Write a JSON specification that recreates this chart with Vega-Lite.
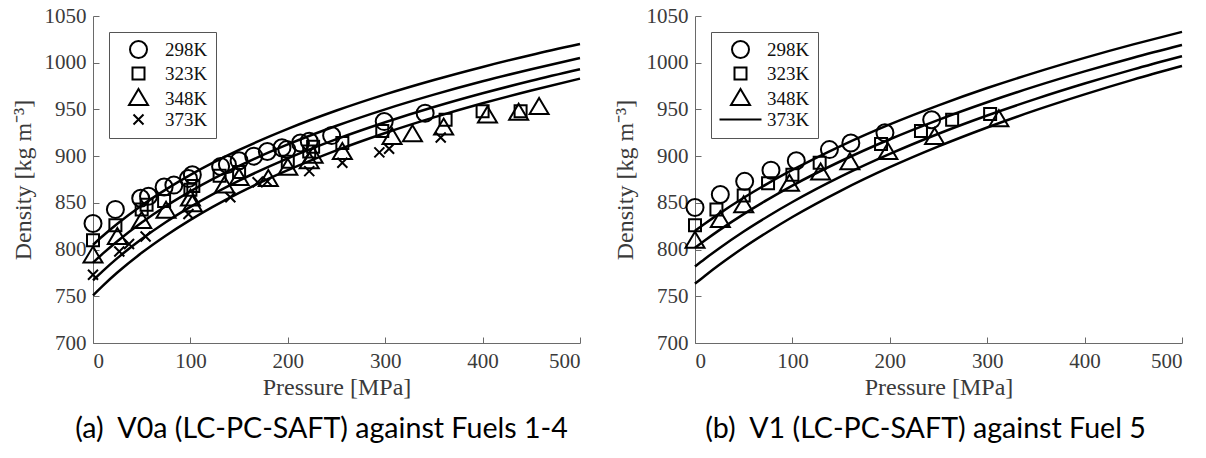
{
  "$schema": "https://vega.github.io/schema/vega-lite/v6.json",
  "background": "white",
  "padding": {"left": 11, "top": 5, "right": 5, "bottom": 5},
  "spacing": 28,
  "config": {
    "view": {"stroke": null},
    "axis": {
      "labelFont": "Liberation Serif", "labelFontSize": 21, "labelColor": "#3a3a3a",
      "titleFont": "Liberation Serif", "titleFontSize": 24, "titleFontWeight": "normal", "titleColor": "#3a3a3a",
      "domainColor": "#6a6a6a", "tickColor": "#6a6a6a", "grid": false,
      "tickSize": -6, "labelPadding": 13, "format": "d"
    },
    "title": {"font": "Lato", "fontSize": 28.6, "fontWeight": "normal", "color": "black", "offset": 16},
    "legend": {
      "orient": "top-left", "offset": 16, "padding": 8, "strokeColor": "#555", "fillColor": "white",
      "labelFont": "Liberation Serif", "labelFontSize": 19, "labelColor": "#111",
      "symbolSize": 4, "symbolStrokeWidth": 2, "symbolStrokeColor": "black", "symbolFillColor": "transparent",
      "symbolOffset": 12, "labelOffset": 17, "rowPadding": 1, "title": null
    }
  },
  "datasets": {
    "curves_a": [
      {"P": 0, "D": 805, "T": "298K"}, {"P": 10, "D": 814.5, "T": "298K"}, {"P": 25, "D": 827.6, "T": "298K"}, {"P": 50, "D": 847.2, "T": "298K"}, {"P": 75, "D": 864.4, "T": "298K"}, {"P": 100, "D": 879.9, "T": "298K"}, {"P": 150, "D": 906.6, "T": "298K"}, {"P": 200, "D": 929.2, "T": "298K"}, {"P": 250, "D": 948.8, "T": "298K"}, {"P": 300, "D": 966.1, "T": "298K"}, {"P": 350, "D": 981.5, "T": "298K"}, {"P": 400, "D": 995.5, "T": "298K"}, {"P": 450, "D": 1008.3, "T": "298K"}, {"P": 500, "D": 1020, "T": "298K"},
      {"P": 0, "D": 786, "T": "323K"}, {"P": 10, "D": 795.6, "T": "323K"}, {"P": 25, "D": 809.0, "T": "323K"}, {"P": 50, "D": 829.0, "T": "323K"}, {"P": 75, "D": 846.6, "T": "323K"}, {"P": 100, "D": 862.3, "T": "323K"}, {"P": 150, "D": 889.5, "T": "323K"}, {"P": 200, "D": 912.5, "T": "323K"}, {"P": 250, "D": 932.5, "T": "323K"}, {"P": 300, "D": 950.1, "T": "323K"}, {"P": 350, "D": 965.8, "T": "323K"}, {"P": 400, "D": 980.1, "T": "323K"}, {"P": 450, "D": 993.0, "T": "323K"}, {"P": 500, "D": 1005, "T": "323K"},
      {"P": 0, "D": 767, "T": "348K"}, {"P": 10, "D": 776.9, "T": "348K"}, {"P": 25, "D": 790.8, "T": "348K"}, {"P": 50, "D": 811.3, "T": "348K"}, {"P": 75, "D": 829.5, "T": "348K"}, {"P": 100, "D": 845.7, "T": "348K"}, {"P": 150, "D": 873.8, "T": "348K"}, {"P": 200, "D": 897.6, "T": "348K"}, {"P": 250, "D": 918.2, "T": "348K"}, {"P": 300, "D": 936.3, "T": "348K"}, {"P": 350, "D": 952.6, "T": "348K"}, {"P": 400, "D": 967.3, "T": "348K"}, {"P": 450, "D": 980.7, "T": "348K"}, {"P": 500, "D": 993, "T": "348K"},
      {"P": 0, "D": 751, "T": "373K"}, {"P": 10, "D": 761.2, "T": "373K"}, {"P": 25, "D": 775.4, "T": "373K"}, {"P": 50, "D": 796.5, "T": "373K"}, {"P": 75, "D": 815.1, "T": "373K"}, {"P": 100, "D": 831.8, "T": "373K"}, {"P": 150, "D": 860.7, "T": "373K"}, {"P": 200, "D": 885.0, "T": "373K"}, {"P": 250, "D": 906.2, "T": "373K"}, {"P": 300, "D": 924.8, "T": "373K"}, {"P": 350, "D": 941.5, "T": "373K"}, {"P": 400, "D": 956.6, "T": "373K"}, {"P": 450, "D": 970.3, "T": "373K"}, {"P": 500, "D": 983, "T": "373K"}
    ],
    "curves_b": [
      {"P": 0, "D": 820, "T": "298K"}, {"P": 10, "D": 827.6, "T": "298K"}, {"P": 25, "D": 838.5, "T": "298K"}, {"P": 50, "D": 855.4, "T": "298K"}, {"P": 75, "D": 870.9, "T": "298K"}, {"P": 100, "D": 885.2, "T": "298K"}, {"P": 150, "D": 911.1, "T": "298K"}, {"P": 200, "D": 934.0, "T": "298K"}, {"P": 250, "D": 954.4, "T": "298K"}, {"P": 300, "D": 972.9, "T": "298K"}, {"P": 350, "D": 989.7, "T": "298K"}, {"P": 400, "D": 1005.2, "T": "298K"}, {"P": 450, "D": 1019.6, "T": "298K"}, {"P": 500, "D": 1033, "T": "298K"},
      {"P": 0, "D": 802, "T": "323K"}, {"P": 10, "D": 809.7, "T": "323K"}, {"P": 25, "D": 820.8, "T": "323K"}, {"P": 50, "D": 838.0, "T": "323K"}, {"P": 75, "D": 853.8, "T": "323K"}, {"P": 100, "D": 868.5, "T": "323K"}, {"P": 150, "D": 894.8, "T": "323K"}, {"P": 200, "D": 918.1, "T": "323K"}, {"P": 250, "D": 938.9, "T": "323K"}, {"P": 300, "D": 957.7, "T": "323K"}, {"P": 350, "D": 974.9, "T": "323K"}, {"P": 400, "D": 990.7, "T": "323K"}, {"P": 450, "D": 1005.4, "T": "323K"}, {"P": 500, "D": 1019, "T": "323K"},
      {"P": 0, "D": 782, "T": "348K"}, {"P": 10, "D": 790.0, "T": "348K"}, {"P": 25, "D": 801.5, "T": "348K"}, {"P": 50, "D": 819.4, "T": "348K"}, {"P": 75, "D": 835.7, "T": "348K"}, {"P": 100, "D": 850.9, "T": "348K"}, {"P": 150, "D": 878.3, "T": "348K"}, {"P": 200, "D": 902.4, "T": "348K"}, {"P": 250, "D": 924.0, "T": "348K"}, {"P": 300, "D": 943.5, "T": "348K"}, {"P": 350, "D": 961.3, "T": "348K"}, {"P": 400, "D": 977.7, "T": "348K"}, {"P": 450, "D": 992.9, "T": "348K"}, {"P": 500, "D": 1007, "T": "348K"},
      {"P": 0, "D": 763.5, "T": "373K"}, {"P": 10, "D": 771.8, "T": "373K"}, {"P": 25, "D": 783.7, "T": "373K"}, {"P": 50, "D": 802.2, "T": "373K"}, {"P": 75, "D": 819.1, "T": "373K"}, {"P": 100, "D": 834.9, "T": "373K"}, {"P": 150, "D": 863.2, "T": "373K"}, {"P": 200, "D": 888.2, "T": "373K"}, {"P": 250, "D": 910.5, "T": "373K"}, {"P": 300, "D": 930.7, "T": "373K"}, {"P": 350, "D": 949.2, "T": "373K"}, {"P": 400, "D": 966.1, "T": "373K"}, {"P": 450, "D": 981.9, "T": "373K"}, {"P": 500, "D": 996.5, "T": "373K"}
    ],
    "pts_a": [
      {"P": 0, "D": 828, "T": "298K"}, {"P": 23, "D": 843, "T": "298K"}, {"P": 49, "D": 855, "T": "298K"}, {"P": 57, "D": 857, "T": "298K"}, {"P": 73, "D": 867, "T": "298K"}, {"P": 83, "D": 869, "T": "298K"}, {"P": 98, "D": 876, "T": "298K"}, {"P": 102, "D": 880, "T": "298K"}, {"P": 131, "D": 889, "T": "298K"}, {"P": 138, "D": 891, "T": "298K"}, {"P": 150, "D": 895, "T": "298K"}, {"P": 165, "D": 900, "T": "298K"}, {"P": 179, "D": 905, "T": "298K"}, {"P": 194, "D": 909, "T": "298K"}, {"P": 199, "D": 907, "T": "298K"}, {"P": 213, "D": 914, "T": "298K"}, {"P": 222, "D": 916, "T": "298K"}, {"P": 245, "D": 922, "T": "298K"}, {"P": 299, "D": 937, "T": "298K"}, {"P": 341, "D": 946, "T": "298K"},
      {"P": 0, "D": 810, "T": "323K"}, {"P": 23, "D": 826, "T": "323K"}, {"P": 50, "D": 843, "T": "323K"}, {"P": 55, "D": 848, "T": "323K"}, {"P": 73, "D": 852, "T": "323K"}, {"P": 100, "D": 864, "T": "323K"}, {"P": 103, "D": 868, "T": "323K"}, {"P": 130, "D": 879, "T": "323K"}, {"P": 150, "D": 883, "T": "323K"}, {"P": 200, "D": 894, "T": "323K"}, {"P": 222, "D": 905, "T": "323K"}, {"P": 226, "D": 910, "T": "323K"}, {"P": 256, "D": 914, "T": "323K"}, {"P": 297, "D": 927, "T": "323K"}, {"P": 362, "D": 939, "T": "323K"}, {"P": 400, "D": 948, "T": "323K"}, {"P": 439, "D": 948, "T": "323K"},
      {"P": 0, "D": 793, "T": "348K"}, {"P": 25, "D": 813, "T": "348K"}, {"P": 50, "D": 830, "T": "348K"}, {"P": 75, "D": 841, "T": "348K"}, {"P": 100, "D": 854, "T": "348K"}, {"P": 102, "D": 848, "T": "348K"}, {"P": 135, "D": 868, "T": "348K"}, {"P": 150, "D": 876, "T": "348K"}, {"P": 180, "D": 875, "T": "348K"}, {"P": 200, "D": 887, "T": "348K"}, {"P": 222, "D": 894, "T": "348K"}, {"P": 226, "D": 900, "T": "348K"}, {"P": 256, "D": 904, "T": "348K"}, {"P": 307, "D": 920, "T": "348K"}, {"P": 328, "D": 923, "T": "348K"}, {"P": 360, "D": 930, "T": "348K"}, {"P": 405, "D": 943, "T": "348K"}, {"P": 437, "D": 946, "T": "348K"}, {"P": 458, "D": 952, "T": "348K"},
      {"P": 0, "D": 773, "T": "373K"}, {"P": 27, "D": 798, "T": "373K"}, {"P": 37, "D": 806, "T": "373K"}, {"P": 54, "D": 814, "T": "373K"}, {"P": 98, "D": 838, "T": "373K"}, {"P": 141, "D": 856, "T": "373K"}, {"P": 169, "D": 872, "T": "373K"}, {"P": 179, "D": 873, "T": "373K"}, {"P": 222, "D": 884, "T": "373K"}, {"P": 256, "D": 893, "T": "373K"}, {"P": 294, "D": 904, "T": "373K"}, {"P": 304, "D": 908, "T": "373K"}, {"P": 357, "D": 920, "T": "373K"}
    ],
    "pts_b": [
      {"P": 0, "D": 845, "T": "298K"}, {"P": 26, "D": 859, "T": "298K"}, {"P": 51, "D": 873, "T": "298K"}, {"P": 78, "D": 885, "T": "298K"}, {"P": 104, "D": 895, "T": "298K"}, {"P": 138, "D": 907, "T": "298K"}, {"P": 160, "D": 914, "T": "298K"}, {"P": 195, "D": 925, "T": "298K"}, {"P": 243, "D": 939, "T": "298K"},
      {"P": 0, "D": 826, "T": "323K"}, {"P": 22, "D": 843, "T": "323K"}, {"P": 50, "D": 858, "T": "323K"}, {"P": 75, "D": 871, "T": "323K"}, {"P": 100, "D": 880, "T": "323K"}, {"P": 128, "D": 893, "T": "323K"}, {"P": 191, "D": 913, "T": "323K"}, {"P": 232, "D": 927, "T": "323K"}, {"P": 264, "D": 939, "T": "323K"}, {"P": 303, "D": 945, "T": "323K"},
      {"P": 0, "D": 809, "T": "348K"}, {"P": 26, "D": 831, "T": "348K"}, {"P": 50, "D": 847, "T": "348K"}, {"P": 97, "D": 870, "T": "348K"}, {"P": 129, "D": 882, "T": "348K"}, {"P": 159, "D": 893, "T": "348K"}, {"P": 198, "D": 904, "T": "348K"}, {"P": 246, "D": 920, "T": "348K"}, {"P": 312, "D": 939, "T": "348K"}
    ]
  },
  "hconcat": [
    {
      "width": 487, "height": 327,
      "title": {"text": "(a)\u00a0\u00a0V0a (LC-PC-SAFT) against Fuels 1-4", "orient": "bottom", "dx": -15},
      "layer": [
        {
          "data": {"name": "curves_a"},
          "mark": {"type": "line", "color": "black", "strokeWidth": 2.5, "interpolate": "monotone"},
          "encoding": {
            "x": {"field": "P", "type": "quantitative", "scale": {"domain": [0, 500], "nice": false}, "axis": {"title": "Pressure [MPa]", "values": [0, 100, 200, 300, 400, 500], "titlePadding": 4}},
            "y": {"field": "D", "type": "quantitative", "scale": {"domain": [700, 1050], "nice": false, "zero": false}, "axis": {"title": "Density [kg m⁻³]", "values": [700, 750, 800, 850, 900, 950, 1000, 1050], "titlePadding": 9}},
            "detail": {"field": "T", "type": "nominal"}
          }
        },
        {
          "data": {"name": "pts_a"},
          "mark": {"type": "point", "filled": false, "color": "black", "strokeWidth": 2, "size": 4, "opacity": 1},
          "encoding": {
            "x": {"field": "P", "type": "quantitative"},
            "y": {"field": "D", "type": "quantitative"},
            "shape": {"field": "T", "type": "nominal",
              "scale": {"domain": ["298K", "323K", "348K", "373K"],
                "range": ["M-8.5,0A8.5,8.5,0,1,1,8.5,0A8.5,8.5,0,1,1,-8.5,0Z", "M-6,-6H6V6H-6Z", "M0,-9.5L9.5,6.5L-9.5,6.5Z", "M-5,-5L5,5M-5,5L5,-5"]}}
          }
        }
      ]
    },
    {
      "width": 487, "height": 327,
      "title": {"text": "(b)\u00a0\u00a0V1 (LC-PC-SAFT) against Fuel 5", "orient": "bottom", "dx": -13},
      "layer": [
        {
          "data": {"name": "curves_b"},
          "mark": {"type": "line", "color": "black", "strokeWidth": 2.5, "interpolate": "monotone"},
          "encoding": {
            "x": {"field": "P", "type": "quantitative", "scale": {"domain": [0, 500], "nice": false}, "axis": {"title": "Pressure [MPa]", "values": [0, 100, 200, 300, 400, 500], "titlePadding": 4}},
            "y": {"field": "D", "type": "quantitative", "scale": {"domain": [700, 1050], "nice": false, "zero": false}, "axis": {"title": "Density [kg m⁻³]", "values": [700, 750, 800, 850, 900, 950, 1000, 1050], "titlePadding": 9}},
            "detail": {"field": "T", "type": "nominal"}
          }
        },
        {
          "data": {"name": "pts_b"},
          "mark": {"type": "point", "filled": false, "color": "black", "strokeWidth": 2, "size": 4, "opacity": 1},
          "encoding": {
            "x": {"field": "P", "type": "quantitative"},
            "y": {"field": "D", "type": "quantitative"},
            "shape": {"field": "T", "type": "nominal",
              "scale": {"domain": ["298K", "323K", "348K", "373K"],
                "range": ["M-8.5,0A8.5,8.5,0,1,1,8.5,0A8.5,8.5,0,1,1,-8.5,0Z", "M-6,-6H6V6H-6Z", "M0,-9.5L9.5,6.5L-9.5,6.5Z", "M-21,0H21"]}}
          }
        }
      ]
    }
  ],
  "resolve": {"scale": {"shape": "independent"}}
}
